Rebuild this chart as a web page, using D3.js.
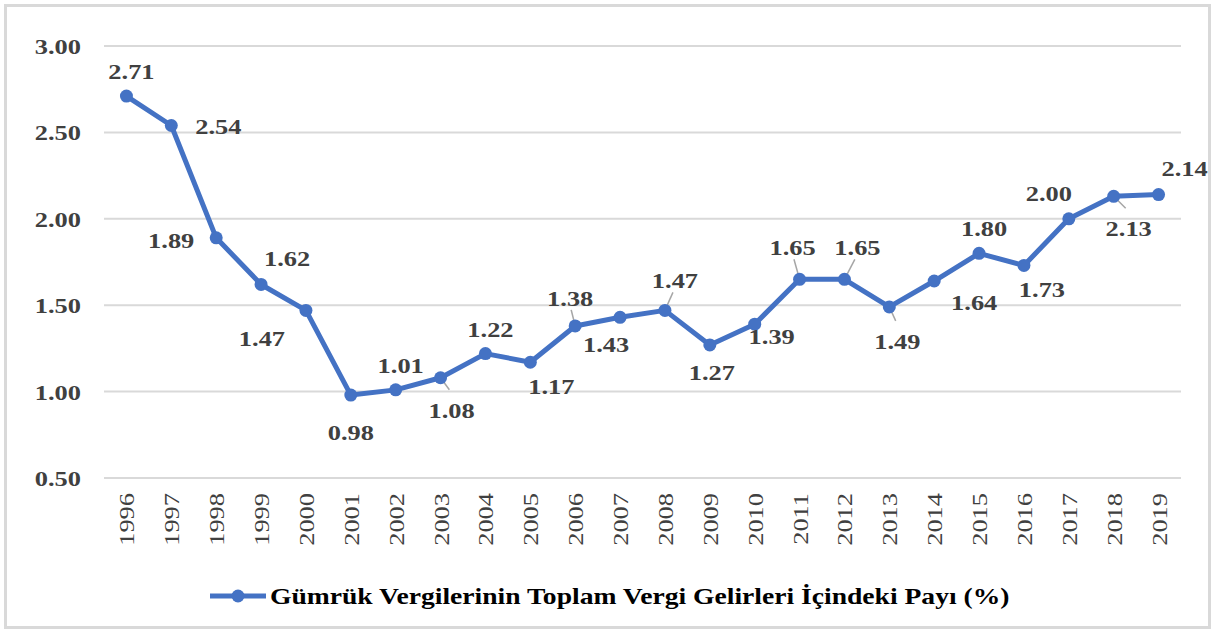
<!DOCTYPE html>
<html>
<head>
<meta charset="utf-8">
<script src="https://cdn.jsdelivr.net/npm/d3@7"></script>
<style>
  body { margin: 0; background: #fff; }
  svg { display: block; }
</style>
</head>
<body>
<div id="chart"></div>
<script>
// chart values
var years = ["1996","1997","1998","1999","2000","2001","2002","2003","2004","2005","2006","2007",
             "2008","2009","2010","2011","2012","2013","2014","2015","2016","2017","2018","2019"];
var shares = [2.71, 2.54, 1.89, 1.62, 1.47, 0.98, 1.01, 1.08, 1.22, 1.17, 1.38, 1.43,
              1.47, 1.27, 1.39, 1.65, 1.65, 1.49, 1.64, 1.80, 1.73, 2.00, 2.13, 2.14];
var yTicks = [0.5, 1.0, 1.5, 2.0, 2.5, 3.0];
var seriesName = "Gümrük Vergilerinin Toplam Vergi Gelirleri İçindeki Payı (%)";

// where each value label sits relative to its point
var labelPos = ["t","r","l","tr","bl","b","t","b","t","br","t","bl",
                "t","b","br","t","t","b","br","t","b","tl","b","tr"];
var hasLeader = [0,0,0,0,0,0,0,1,0,0,1,0, 1,0,0,1,1,1,0,0,0,0,1,0];

var width = 1213, height = 631;
var blue = "#4472C4";
var serif = "'Liberation Serif', 'Times New Roman', serif";

var svg = d3.select("#chart").append("svg")
    .attr("width", width).attr("height", height);

// outer frame
svg.append("rect")
    .attr("x", 5.5).attr("y", 5.5)
    .attr("width", 1204).attr("height", 622)
    .attr("fill", "none").attr("stroke", "#d9d9d9").attr("stroke-width", 3);

var x = d3.scaleBand().domain(years).range([104, 1181]);
var y = d3.scaleLinear().domain([0.5, 3.0]).range([478, 46]);

// gridlines
svg.append("g").selectAll("line")
    .data(yTicks).enter().append("line")
    .attr("x1", 104).attr("x2", 1181)
    .attr("y1", d => y(d)).attr("y2", d => y(d))
    .attr("stroke", "#d9d9d9").attr("stroke-width", 2);

// y tick labels
svg.append("g").selectAll("text")
    .data(yTicks).enter().append("text")
    .attr("transform", d => "translate(81," + (y(d) + 8) + ") scale(1.2,1)")
    .attr("text-anchor", "end")
    .attr("font-family", serif).attr("font-weight", "bold").attr("font-size", 22)
    .attr("fill", "#404040")
    .text(d => d3.format(".2f")(d));

// x tick labels (rotated)
svg.append("g").selectAll("text")
    .data(years).enter().append("text")
    .attr("transform", d => "translate(" + (x(d) + x.bandwidth() / 2 + 8) + ",493) rotate(-90) scale(1.2,1)")
    .attr("text-anchor", "end")
    .attr("font-family", serif).attr("font-size", 22)
    .attr("fill", "#404040")
    .text(d => d);

var cx = (d, i) => x(years[i]) + x.bandwidth() / 2;
var cy = d => y(d);

// label offsets by position code
var offs = {
  t:  [5, -25], b: [0, 37], l: [-45, 2], r: [47, 1],
  tr: [26, -26], tl: [-20, -26], bl: [-44, 28], br: [21, 24]
};
var tweak = { 7: [11, 32], 10: [-5, -28], 11: [-14, 27], 12: [10, -30], 15: [-7, -32], 16: [13, -32],
              17: [8, 34], 18: [40, 21], 20: [18, 24], 22: [15, 32], 13: [2, 27], 14: [17, 12],
              23: [26, -27] };
function labelOff(i) { return tweak[i] || offs[labelPos[i]]; }

// leader lines
var leaders = svg.append("g");
shares.forEach(function(d, i) {
  if (!hasLeader[i]) return;
  var o = labelOff(i);
  var px = cx(d, i), py = cy(d);
  var up = o[1] < 0;
  var ly = py + (up ? o[1] + 12 : o[1] - 20);
  var lx = px + o[0] * 0.8;
  leaders.append("line")
    .attr("x1", px).attr("y1", py)
    .attr("x2", lx).attr("y2", ly)
    .attr("stroke", "#a6a6a6").attr("stroke-width", 1.5);
});

// series line
svg.append("path")
    .datum(shares)
    .attr("fill", "none")
    .attr("stroke", blue).attr("stroke-width", 5)
    .attr("stroke-linejoin", "round")
    .attr("d", d3.line().x(cx).y(cy));

svg.append("g").selectAll("circle")
    .data(shares).enter().append("circle")
    .attr("cx", cx).attr("cy", cy).attr("r", 6.5)
    .attr("fill", blue);

// value labels
svg.append("g").selectAll("text")
    .data(shares).enter().append("text")
    .attr("transform", (d, i) => {
      var o = labelOff(i);
      return "translate(" + (cx(d, i) + o[0]) + "," + (cy(d) + o[1] + 8) + ") scale(1.2,1)";
    })
    .attr("text-anchor", "middle")
    .attr("font-family", serif).attr("font-weight", "bold").attr("font-size", 22)
    .attr("fill", "#404040")
    .text(d => d3.format(".2f")(d));

// legend
var leg = svg.append("g").attr("transform", "translate(210,596)");
leg.append("line").attr("x1", 0).attr("x2", 56).attr("y1", 0).attr("y2", 0)
    .attr("stroke", blue).attr("stroke-width", 5);
leg.append("circle").attr("cx", 28).attr("cy", 0).attr("r", 6.5).attr("fill", blue);
leg.append("text")
    .attr("transform", "translate(60,8) scale(1.2,1)")
    .attr("font-family", serif).attr("font-weight", "bold").attr("font-size", 23)
    .attr("fill", "#000")
    .text(seriesName);
</script>
</body>
</html>
